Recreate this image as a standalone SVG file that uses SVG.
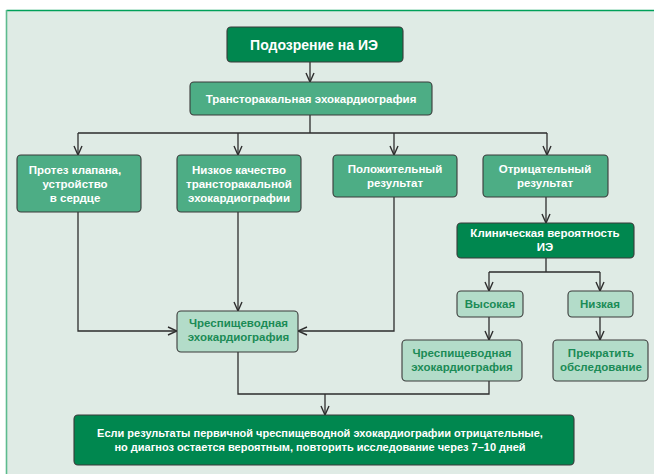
<svg xmlns="http://www.w3.org/2000/svg" width="654" height="474" viewBox="0 0 654 474">
<defs>
<marker id="arr" markerUnits="userSpaceOnUse" markerWidth="12" markerHeight="12" viewBox="-11 -6 12 12" refX="0" refY="0" orient="auto">
<path d="M-9,-4 L0,0 L-9,4" fill="none" stroke="#2d2d2d" stroke-width="1.4"/>
</marker>
</defs>
<style>
.box{stroke:#3a3a3a;stroke-width:1.1}
.dark{fill:#00874f}
.mid{fill:#4dad85}
.light{fill:#b3dcc9}
text{font-family:"Liberation Sans",Arial,sans-serif;font-weight:bold;font-size:11.5px;text-anchor:middle}
.w{fill:#ffffff}
.g{fill:#1b8b56}
.con{fill:none;stroke:#2d2d2d;stroke-width:1.3}
</style>
<rect x="0" y="0" width="654" height="474" fill="#ffffff"/>
<rect x="6.5" y="10.5" width="660" height="480" fill="#dfebe5"/>
<line x1="6.5" y1="10.5" x2="654" y2="10.5" stroke="#00a05a" stroke-width="1.6"/>
<line x1="6.5" y1="10" x2="6.5" y2="474" stroke="#5dbb8e" stroke-width="1.6"/>

<g id="connectors">
<path class="con" d="M310,62 V82" marker-end="url(#arr)"/>
<path class="con" d="M310,115 V133 M78,133 H547"/>
<path class="con" d="M78,133 V155" marker-end="url(#arr)"/>
<path class="con" d="M238,133 V155" marker-end="url(#arr)"/>
<path class="con" d="M394,133 V155" marker-end="url(#arr)"/>
<path class="con" d="M547,133 V155" marker-end="url(#arr)"/>
<path class="con" d="M78,212 V331 H177" marker-end="url(#arr)"/>
<path class="con" d="M238,212 V311" marker-end="url(#arr)"/>
<path class="con" d="M394,197 V331 H298" marker-end="url(#arr)"/>
<path class="con" d="M546,197 V223" marker-end="url(#arr)"/>
<path class="con" d="M546,258 V272 M489,272 H600"/>
<path class="con" d="M489,272 V291" marker-end="url(#arr)"/>
<path class="con" d="M600,272 V291" marker-end="url(#arr)"/>
<path class="con" d="M489,317 V340" marker-end="url(#arr)"/>
<path class="con" d="M600,317 V340" marker-end="url(#arr)"/>
<path class="con" d="M238,352 V394 H489 V381"/>
<path class="con" d="M325,394 V415" marker-end="url(#arr)"/>
</g>

<g id="n1">
<rect class="box dark" x="227" y="27" width="176" height="35" rx="4"/>
<text class="w" x="314" y="49.5" style="font-size:14px">Подозрение на ИЭ</text>
</g>
<g id="n2">
<rect class="box mid" x="190" y="82" width="242" height="33" rx="4"/>
<text class="w" x="311" y="102.5">Трансторакальная эхокардиография</text>
</g>
<g id="n3">
<rect class="box mid" x="17" y="155" width="124" height="57" rx="4"/>
<text class="w" x="75" y="173.5">Протез клапана,</text>
<text class="w" x="75" y="187.5">устройство</text>
<text class="w" x="75" y="201.5">в сердце</text>
</g>
<g id="n4">
<rect class="box mid" x="177" y="155" width="124" height="57" rx="4"/>
<text class="w" x="239" y="173.5">Низкое качество</text>
<text class="w" x="239" y="187.5">трансторакальной</text>
<text class="w" x="239" y="201.5">эхокардиографии</text>
</g>
<g id="n5">
<rect class="box mid" x="333" y="155" width="124" height="42" rx="4"/>
<text class="w" x="395" y="173">Положительный</text>
<text class="w" x="395" y="187">результат</text>
</g>
<g id="n6">
<rect class="box mid" x="483" y="155" width="125" height="42" rx="4"/>
<text class="w" x="545" y="173">Отрицательный</text>
<text class="w" x="545" y="187">результат</text>
</g>
<g id="n7">
<rect class="box dark" x="457" y="223" width="177" height="35" rx="4"/>
<text class="w" x="545" y="237">Клиническая вероятность</text>
<text class="w" x="545" y="251">ИЭ</text>
</g>
<g id="n8">
<rect class="box light" x="457" y="291" width="66" height="26" rx="4"/>
<text class="g" x="490" y="308">Высокая</text>
</g>
<g id="n9">
<rect class="box light" x="568" y="291" width="65" height="26" rx="4"/>
<text class="g" x="600" y="308">Низкая</text>
</g>
<g id="n10">
<rect class="box light" x="177" y="311" width="121" height="41" rx="4"/>
<text class="g" x="238.5" y="327">Чреспищеводная</text>
<text class="g" x="238.5" y="341">эхокардиография</text>
</g>
<g id="n11">
<rect class="box light" x="402" y="340" width="120" height="41" rx="4"/>
<text class="g" x="462" y="357">Чреспищеводная</text>
<text class="g" x="462" y="371">эхокардиография</text>
</g>
<g id="n12">
<rect class="box light" x="553" y="340" width="95" height="41" rx="4"/>
<text class="g" x="601" y="357">Прекратить</text>
<text class="g" x="601" y="371">обследование</text>
</g>
<g id="n13">
<rect class="box dark" x="74" y="415" width="500" height="50" rx="4"/>
<text class="w" x="320" y="437" style="font-size:11px">Если результаты первичной чреспищеводной эхокардиографии отрицательные,</text>
<text class="w" x="320" y="451" style="font-size:11px">но диагноз остается вероятным, повторить исследование через 7–10 дней</text>
</g>
</svg>
